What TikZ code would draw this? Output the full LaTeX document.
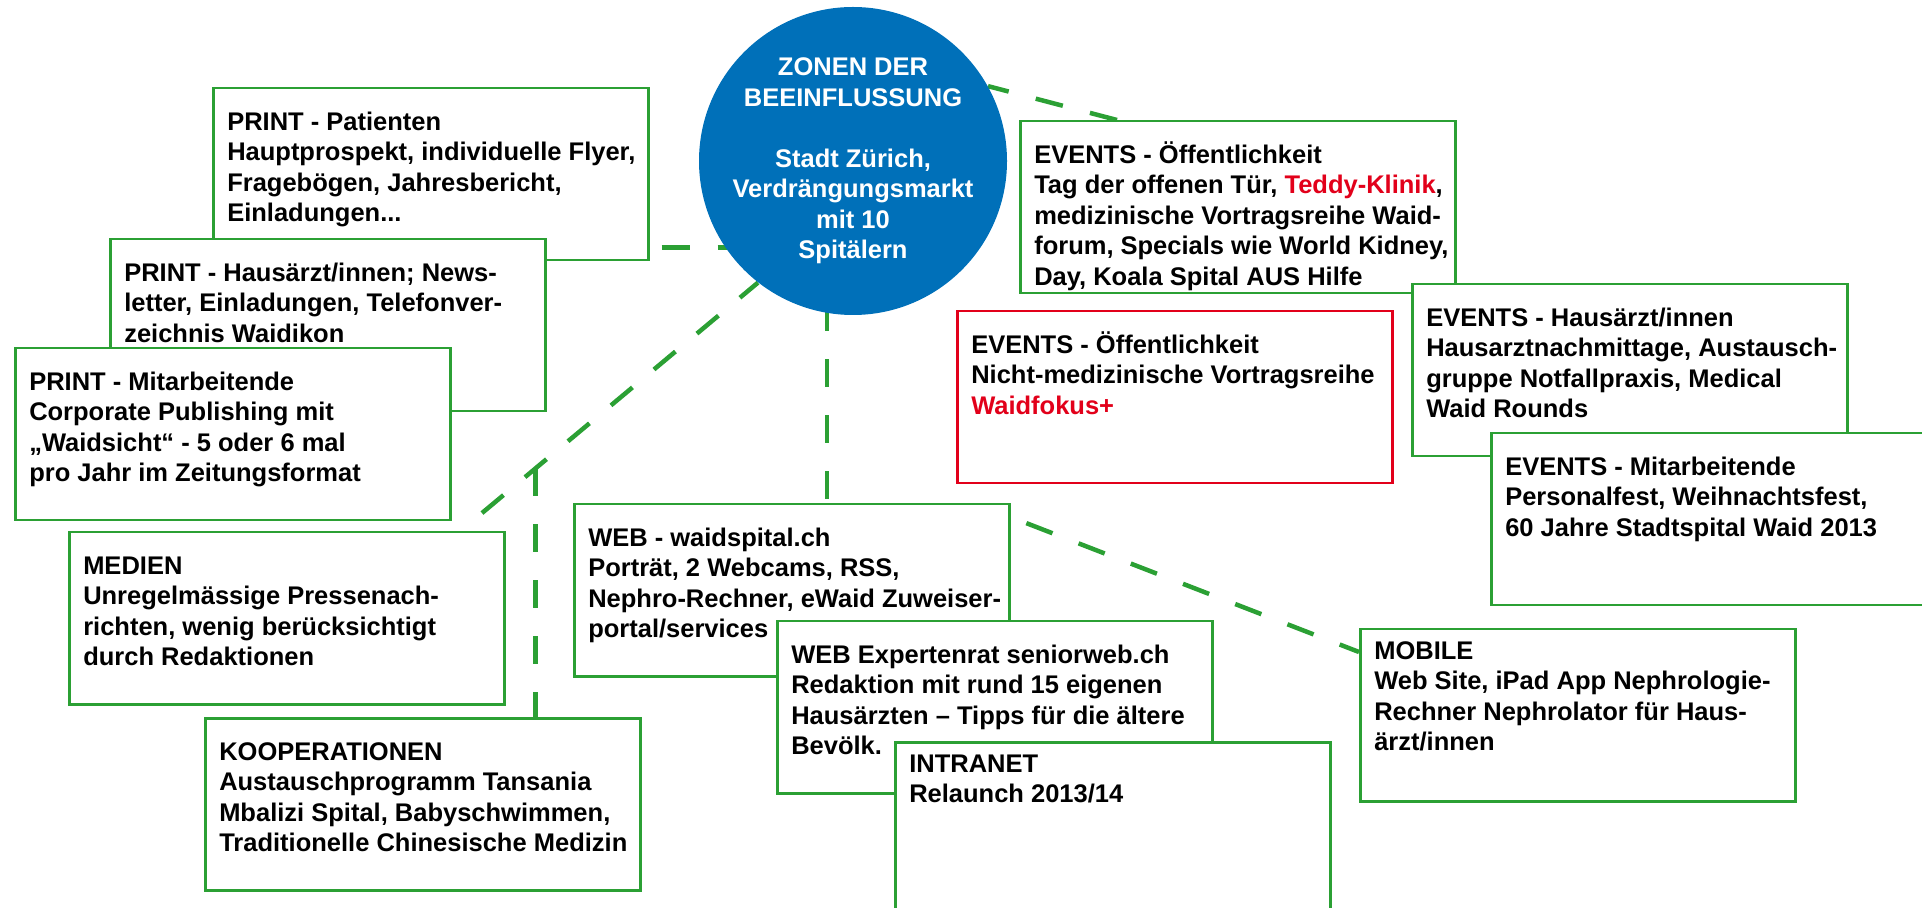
\documentclass[tikz,border=0pt]{standalone}
\usepackage{fontspec}
\setmainfont{Liberation Sans}
\usetikzlibrary{calc}
\usetikzlibrary{backgrounds}

\definecolor{zgreen}{RGB}{43,160,52}
\definecolor{zred}{RGB}{226,0,26}
\definecolor{zblue}{RGB}{0,112,185}

\newcommand{\zfont}{\fontsize{12.75pt}{15.25pt}\selectfont\bfseries}
% text of one box, #1 = height of the first line
\newcommand{\ztext}[2][21pt]{\parbox[c][86pt][t]{217.5pt}{\raggedright\leftskip=7pt\rule{0pt}{#1}#2}}

\tikzset{
  zonebox/.style={draw=zgreen, line width=1.25pt, fill=white, anchor=north west, inner sep=0pt, font=\zfont},
  redbox/.style={zonebox, draw=zred},
  link/.style={draw=zgreen, line width=2.25pt, dash pattern=on 14pt off 14pt}
}

\begin{document}
\begin{tikzpicture}[x=0.5pt,y=-0.5pt]
\path[clip, use as bounding box] (0,0) rectangle (1922,908);

\node[circle, fill=zblue, minimum size=154pt, inner sep=-8pt, text=white, align=center, font=\zfont] (zone) at (853,161) {ZONEN DER\\BEEINFLUSSUNG\\[15.25pt]Stadt Zürich,\\Verdrängungsmarkt\\mit 10\\Spitälern};

% print
\node[zonebox] (p1) at (212,87) {\ztext{PRINT - Patienten\\Hauptprospekt, individuelle Flyer,\\Fragebögen, Jahresbericht,\\Einladungen...}};
\node[zonebox] (p2) at (109,238) {\ztext{PRINT - Hausärzt/innen; News-\\letter, Einladungen, Telefonver-\\zeichnis Waidikon}};
\node[zonebox] (p3) at (14,347) {\ztext{PRINT - Mitarbeitende\\Corporate Publishing mit\\„Waidsicht“ - 5 oder 6 mal\\pro Jahr im Zeitungsformat}};
\node[zonebox] (medien) at (68,531) {\ztext{MEDIEN\\Unregelmässige Pressenach-\\richten, wenig berücksichtigt\\durch Redaktionen}};
\node[zonebox] (koop) at (204,717) {\ztext{KOOPERATIONEN\\Austauschprogramm Tansania\\Mbalizi Spital, Babyschwimmen,\\Traditionelle Chinesische Medizin}};

% web
\node[zonebox] (web) at (573,503) {\ztext{WEB - waidspital.ch\\Porträt, 2 Webcams, RSS,\\Nephro-Rechner, eWaid Zuweiser-\\portal/services}};
\node[zonebox] (expert) at (776,620) {\ztext{WEB Expertenrat seniorweb.ch\\Redaktion mit rund 15 eigenen\\Hausärzten – Tipps für die ältere\\Bevölk.}};
\node[zonebox] (intranet) at (894,741) {\ztext[15pt]{INTRANET\\Relaunch 2013/14}};

% events
\node[zonebox] (ev1) at (1019,120) {\ztext{EVENTS - Öffentlichkeit\\Tag der offenen Tür, \textcolor{zred}{Teddy-Klinik},\\medizinische Vortragsreihe Waid-\\forum, Specials wie World Kidney,\\Day, Koala Spital AUS Hilfe}};
\node[redbox] (ev2) at (956,310) {\ztext{EVENTS - Öffentlichkeit\\Nicht-medizinische Vortragsreihe\\\textcolor{zred}{Waidfokus+}}};
\node[zonebox] (ev3) at (1411,283) {\ztext{EVENTS - Hausärzt/innen\\Hausarztnachmittage, Austausch-\\gruppe Notfallpraxis, Medical\\Waid Rounds}};
\node[zonebox] (ev4) at (1490,432) {\ztext{EVENTS - Mitarbeitende\\Personalfest, Weihnachtsfest,\\60 Jahre Stadtspital Waid 2013}};
\node[zonebox] (mobile) at (1359,628) {\ztext[15pt]{MOBILE\\Web Site, iPad App Nephrologie-\\Rechner Nephrolator für Haus-\\ärzt/innen}};

\begin{scope}[on background layer]
\draw[link, dash phase=22pt] ($(p1.south east)+(0,-14)$) coordinate (a1) -- (a1 -| zone.center);
\draw[link, dash phase=14pt] ($(medien.north east)+(-45,0)$) -- (zone.232) coordinate[pos=0.252] (kb);
\draw[link] (kb) -- (kb |- koop.north);
\draw[link, dash phase=26pt] ($(web.north west)+(254,0)$) coordinate (d1) -- (d1 |- zone.center);
\draw[link] ($(ev1.north west)+(98,0)$) -- (zone.29);
\draw[link, dash phase=19.5pt] ($(web.north east)+(0,14)$) -- ($(mobile.north west)+(0,24)$);
\end{scope}
\end{tikzpicture}
\end{document}
